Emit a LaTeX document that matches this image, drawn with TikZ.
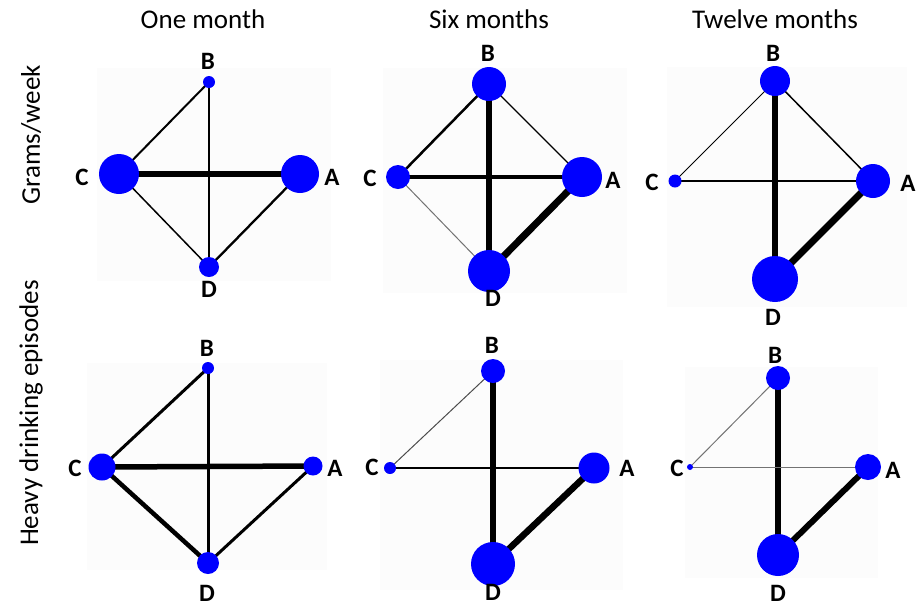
\documentclass[tikz,border=0pt]{standalone}
\usepackage{fontspec}
\setmainfont{Carlito}
\usetikzlibrary{backgrounds}
\definecolor{nodeblue}{RGB}{0,0,255}
\definecolor{panelbg}{RGB}{252,252,252}
\pgfdeclarelayer{bgl}
\pgfdeclarelayer{edgel}
\pgfsetlayers{bgl,edgel,main}
\tikzset{
  dot/.style={circle, fill=nodeblue, draw=none, inner sep=0pt, minimum size=#1},
  lab/.style={font=\fontsize{25}{27}\selectfont\bfseries, inner sep=0pt},
  title/.style={font=\fontsize{27}{30}\selectfont, inner sep=0pt},
  edge/.style={draw=black, line width=#1},
  gedge/.style={draw=black!55, line width=#1},
  panel/.style={fill=panelbg, draw=none}
}
\begin{document}
\begin{tikzpicture}[x=1pt,y=-1pt]
\useasboundingbox (0,0) rectangle (923,606);
% titles
\node[title] (t1) at (203,19) {One month};
\node[title] (t2) at (489,19) {Six months};
\node[title] (t3) at (775,19) {Twelve months};
\node[title, rotate=90] (r1) at (31,135) {Grams/week};
\node[title, rotate=90] (r2) at (31,413) {Heavy drinking episodes};

% ---------- Panel 1 ----------
\node[dot=12pt] (p1B) at (209,82) {};
\node[dot=40pt] (p1C) at (119,174) {};
\node[dot=38pt] (p1A) at (300,174) {};
\node[dot=20pt] (p1D) at (209,267) {};
\node[lab] (p1Bl) at (208,61) {B};
\node[lab] (p1Cl) at (82,177) {C};
\node[lab] (p1Al) at (332,177) {A};
\node[lab] (p1Dl) at (209,289) {D};
\begin{pgfonlayer}{bgl}
\fill[panel] (97,68) rectangle (331,281);
\end{pgfonlayer}
\begin{pgfonlayer}{edgel}
\path[edge=5.5pt] (p1C.center) -- (p1A.center);
\path[edge=2pt] (p1C.center) -- (p1B.center);
\path[edge=1.3pt] (p1B.center) -- (p1D.center);
\path[edge=1.5pt] (p1C.center) -- (p1D.center);
\path[edge=2.3pt] (p1A.center) -- (p1D.center);
\end{pgfonlayer}

% ---------- Panel 2 ----------
\node[dot=34pt] (p2B) at (489,84) {};
\node[dot=24pt] (p2C) at (398,177) {};
\node[dot=40pt] (p2A) at (582,177) {};
\node[dot=42pt] (p2D) at (489,271) {};
\node[lab] (p2Bl) at (488,53) {B};
\node[lab] (p2Cl) at (370,178) {C};
\node[lab] (p2Al) at (613,180) {A};
\node[lab] (p2Dl) at (493,298) {D};
\begin{pgfonlayer}{bgl}
\fill[panel] (383,68) rectangle (627,293);
\end{pgfonlayer}
\begin{pgfonlayer}{edgel}
\path[edge=6.5pt] (p2B.center) -- (p2D.center);
\path[edge=7pt] (p2A.center) -- (p2D.center);
\path[edge=4pt] (p2C.center) -- (p2A.center);
\path[edge=2.5pt] (p2C.center) -- (p2B.center);
\path[edge=1.3pt] (p2B.center) -- (p2A.center);
\path[gedge=1pt] (p2C.center) -- (p2D.center);
\end{pgfonlayer}

% ---------- Panel 3 ----------
\node[dot=30pt] (p3B) at (775,81) {};
\node[dot=13pt] (p3C) at (675,181) {};
\node[dot=34pt] (p3A) at (873,181) {};
\node[dot=46pt] (p3D) at (775,279) {};
\node[lab] (p3Bl) at (773,53) {B};
\node[lab] (p3Cl) at (652,182) {C};
\node[lab] (p3Al) at (908,183) {A};
\node[lab] (p3Dl) at (773,317) {D};
\begin{pgfonlayer}{bgl}
\fill[panel] (667,67) rectangle (907,307);
\end{pgfonlayer}
\begin{pgfonlayer}{edgel}
\path[edge=6.5pt] (p3B.center) -- (p3D.center);
\path[edge=7pt] (p3A.center) -- (p3D.center);
\path[edge=2pt] (p3C.center) -- (p3A.center);
\path[edge=1pt] (p3C.center) -- (p3B.center);
\path[edge=1.5pt] (p3B.center) -- (p3A.center);
\end{pgfonlayer}

% ---------- Panel 4 ----------
\node[dot=12pt] (p4B) at (208,368) {};
\node[dot=27pt] (p4C) at (102,467) {};
\node[dot=19pt] (p4A) at (313,466) {};
\node[dot=22pt] (p4D) at (208,563) {};
\node[lab] (p4Bl) at (207,348) {B};
\node[lab] (p4Cl) at (75,468) {C};
\node[lab] (p4Al) at (335,468) {A};
\node[lab] (p4Dl) at (207,593) {D};
\begin{pgfonlayer}{bgl}
\fill[panel] (87,363) rectangle (327,570);
\end{pgfonlayer}
\begin{pgfonlayer}{edgel}
\path[edge=5.5pt] (p4C.center) -- (p4A.center);
\path[edge=4.5pt] (p4C.center) -- (p4D.center);
\path[edge=3pt] (p4C.center) -- (p4B.center);
\path[edge=3pt] (p4B.center) -- (p4D.center);
\path[edge=3pt] (p4A.center) -- (p4D.center);
\end{pgfonlayer}

% ---------- Panel 5 ----------
\node[dot=24pt] (p5B) at (493,371) {};
\node[dot=12pt] (p5C) at (390,468) {};
\node[dot=31pt] (p5A) at (594,468) {};
\node[dot=44pt] (p5D) at (493,564) {};
\node[lab] (p5Bl) at (492,345) {B};
\node[lab] (p5Cl) at (372,467) {C};
\node[lab] (p5Al) at (627,468) {A};
\node[lab] (p5Dl) at (493,592) {D};
\begin{pgfonlayer}{bgl}
\fill[panel] (380,360) rectangle (623,590);
\end{pgfonlayer}
\begin{pgfonlayer}{edgel}
\path[edge=6pt] (p5B.center) -- (p5D.center);
\path[edge=6.5pt] (p5A.center) -- (p5D.center);
\path[edge=2pt] (p5C.center) -- (p5A.center);
\path[gedge=1pt, draw=black!70] (p5C.center) -- (p5B.center);
\end{pgfonlayer}

% ---------- Panel 6 ----------
\node[dot=24pt] (p6B) at (778,378) {};
\node[dot=6pt] (p6C) at (690,467) {};
\node[dot=26pt] (p6A) at (868,467) {};
\node[dot=42pt] (p6D) at (778,555) {};
\node[lab] (p6Bl) at (775,355) {B};
\node[lab] (p6Cl) at (677,468) {C};
\node[lab] (p6Al) at (893,470) {A};
\node[lab] (p6Dl) at (778,593) {D};
\begin{pgfonlayer}{bgl}
\fill[panel] (685,367) rectangle (878,578);
\end{pgfonlayer}
\begin{pgfonlayer}{edgel}
\path[edge=5.5pt] (p6B.center) -- (p6D.center);
\path[edge=6pt] (p6A.center) -- (p6D.center);
\path[gedge=1pt] (p6C.center) -- (p6A.center);
\path[gedge=1pt] (p6C.center) -- (p6B.center);
\end{pgfonlayer}
\end{tikzpicture}
\end{document}
